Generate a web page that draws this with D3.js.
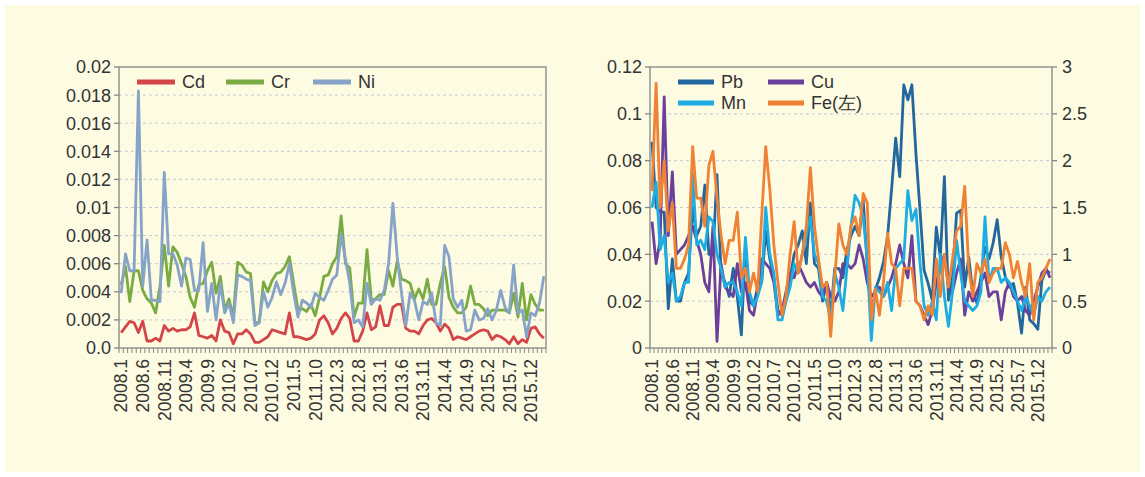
<!DOCTYPE html>
<html>
<head>
<meta charset="utf-8">
<script src="https://cdn.jsdelivr.net/npm/d3@7/dist/d3.min.js"></script>
<style>
  body { margin: 0; background: #fff; }
  svg { display: block; font-family: "Liberation Sans", Arial, sans-serif; }
</style>
</head>
<body>
<div id="chart"></div>
<script>
// ── DATA ──────────────────────────────────────────────────────────────────
// Monthly samples, 2008.1 – 2016.3 (99 months)
const months = [
  "2008.1","2008.2","2008.3","2008.4","2008.5","2008.6","2008.7","2008.8","2008.9","2008.10","2008.11","2008.12",
  "2009.1","2009.2","2009.3","2009.4","2009.5","2009.6","2009.7","2009.8","2009.9","2009.10","2009.11","2009.12",
  "2010.1","2010.2","2010.3","2010.4","2010.5","2010.6","2010.7","2010.8","2010.9","2010.10","2010.11","2010.12",
  "2011.1","2011.2","2011.3","2011.4","2011.5","2011.6","2011.7","2011.8","2011.9","2011.10","2011.11","2011.12",
  "2012.1","2012.2","2012.3","2012.4","2012.5","2012.6","2012.7","2012.8","2012.9","2012.10","2012.11","2012.12",
  "2013.1","2013.2","2013.3","2013.4","2013.5","2013.6","2013.7","2013.8","2013.9","2013.10","2013.11","2013.12",
  "2014.1","2014.2","2014.3","2014.4","2014.5","2014.6","2014.7","2014.8","2014.9","2014.10","2014.11","2014.12",
  "2015.1","2015.2","2015.3","2015.4","2015.5","2015.6","2015.7","2015.8","2015.9","2015.10","2015.11","2015.12",
  "2016.1","2016.2","2016.3"
];

// x-axis labels (every 5th month)
const xTickLabels = [
  "2008.1","2008.6","2008.11","2009.4","2009.9","2010.2","2010.7","2010.12","2011.5","2011.10",
  "2012.3","2012.8","2013.1","2013.6","2013.11","2014.4","2014.9","2015.2","2015.7","2015.12"
];

// left chart: Cd, Cr, Ni
const cd = [
  .0011,.0015,.0019,.0018,.0011,.0019,.0005,.0005,.0007,.0005,
  .0016,.0012,.0014,.0012,.0013,.0013,.0015,.0025,.0009,.0008,
  .0007,.0009,.0005,.0020,.0012,.0011,.0003,.0010,.0010,.0013,
  .0010,.0004,.0004,.0006,.0008,.0013,.0012,.0011,.0010,.0025,
  .0008,.0008,.0007,.0006,.0007,.0010,.0020,.0023,.0018,.0010,
  .0014,.0021,.0025,.0021,.0005,.0005,.0012,.0025,.0013,.0015,
  .0030,.0016,.0016,.0029,.0031,.0031,.0014,.0012,.0012,.0010,
  .0016,.0020,.0021,.0018,.0012,.0017,.0014,.0006,.0008,.0007,
  .0006,.0008,.0010,.0012,.0013,.0012,.0006,.0009,.0008,.0006,
  .0003,.0008,.0003,.0006,.0004,.0014,.0015,.0010,.0007
];
const cr = [
  .0045,.0058,.0033,.0055,.0055,.0041,.0035,.0032,.0025,.0044,
  .0073,.0044,.0072,.0068,.0060,.0051,.0036,.0029,.0045,.0046,
  .0055,.0061,.0039,.0051,.0027,.0035,.0022,.0061,.0059,.0054,
  .0053,.0018,.0018,.0047,.0040,.0048,.0053,.0054,.0058,.0065,
  .0046,.0027,.0028,.0026,.0031,.0023,.0036,.0051,.0052,.0060,
  .0065,.0094,.0060,.0057,.0022,.0032,.0032,.0070,.0034,.0035,
  .0038,.0038,.0055,.0044,.0062,.0049,.0048,.0046,.0035,.0042,
  .0035,.0049,.0031,.0031,.0046,.0058,.0036,.0029,.0025,.0025,
  .0029,.0044,.0031,.0031,.0028,.0023,.0027,.0027,.0027,.0027,
  .0025,.0039,.0022,.0046,.0020,.0038,.0031,.0027,.0027
];
const ni = [
  .0039,.0067,.0055,.0055,.0183,.0044,.0077,.0034,.0034,.0033,
  .0125,.0067,.0067,.0059,.0044,.0064,.0063,.0041,.0041,.0075,
  .0026,.0046,.0020,.0046,.0025,.0032,.0018,.0052,.0051,.0049,
  .0048,.0016,.0018,.0040,.0029,.0036,.0047,.0038,.0046,.0060,
  .0039,.0022,.0034,.0032,.0029,.0039,.0036,.0034,.0041,.0049,
  .0052,.0081,.0063,.0046,.0018,.0020,.0015,.0046,.0031,.0035,
  .0034,.0041,.0060,.0103,.0065,.0039,.0016,.0039,.0034,.0020,
  .0033,.0031,.0039,.0018,.0016,.0073,.0065,.0035,.0029,.0034,
  .0012,.0013,.0027,.0020,.0021,.0028,.0020,.0027,.0041,.0029,
  .0025,.0059,.0025,.0027,.0008,.0025,.0023,.0032,.0051
];

// right chart: Pb, Cu, Mn on the right axis; Fe on the left axis (左)
const pb = [
  2.20,1.50,1.45,1.45,0.42,0.95,0.50,0.50,0.70,0.80,
  1.50,1.20,1.30,1.74,1.00,1.00,1.85,0.80,0.70,0.55,
  0.85,0.55,0.14,1.10,0.50,0.45,0.65,0.70,1.25,0.95,
  0.75,0.40,0.35,0.55,0.75,1.00,1.10,1.25,0.90,1.55,
  0.90,0.85,0.50,0.70,0.35,0.85,0.85,0.75,1.05,1.20,
  1.30,1.20,1.58,0.90,0.33,0.62,0.75,0.92,1.19,1.70,
  2.24,1.83,2.81,2.65,2.81,2.07,1.47,0.83,0.69,0.51,
  1.29,0.97,1.83,0.51,0.76,1.44,1.47,0.65,0.97,0.58,
  0.48,0.76,1.08,0.95,1.12,1.37,0.97,0.76,0.65,0.69,
  0.48,0.16,0.65,0.30,0.26,0.20,0.72,0.83,0.80
];
const cu = [
  1.35,0.90,1.15,2.68,1.20,1.88,1.00,1.05,1.10,1.20,
  1.30,1.15,1.00,0.70,0.60,1.30,0.07,0.90,0.65,0.60,
  0.55,0.90,0.60,0.70,0.40,0.35,0.60,0.95,0.90,0.85,
  0.70,0.35,0.40,0.60,0.80,0.75,0.90,0.80,0.70,0.65,
  0.70,0.60,0.55,0.70,0.55,0.50,0.60,0.90,0.90,0.85,
  0.90,1.10,0.95,0.70,0.55,0.60,0.65,0.55,0.65,0.75,
  0.90,1.10,0.90,0.75,1.20,0.50,0.45,0.35,0.25,0.40,
  0.70,0.85,1.00,0.65,0.60,0.80,0.95,0.35,0.60,0.50,
  0.60,0.70,0.80,0.55,0.60,0.60,0.30,0.60,0.70,0.55,
  0.50,0.55,0.40,0.35,0.50,0.65,0.80,0.85,0.75
];
const mn = [
  1.50,1.77,1.05,1.20,0.70,0.80,0.50,0.55,0.70,0.70,
  1.86,1.10,1.15,1.05,1.40,1.35,1.00,0.85,0.65,0.70,
  0.70,0.60,0.45,1.18,0.60,0.45,0.55,0.70,1.50,1.00,
  0.80,0.30,0.30,0.50,0.65,0.90,0.80,1.00,1.20,1.40,
  1.00,0.90,0.55,0.50,0.30,0.80,0.65,0.40,0.85,1.30,
  1.63,1.55,1.40,0.95,0.08,0.65,0.60,0.55,0.70,0.40,
  0.85,0.90,0.95,1.68,1.36,1.48,0.90,0.45,0.35,0.50,
  0.30,1.00,0.55,0.23,0.60,1.15,0.80,0.50,0.45,0.40,
  0.45,0.60,1.40,0.70,0.85,0.85,0.70,0.75,0.70,0.60,
  0.50,0.40,0.55,0.45,0.35,0.55,0.50,0.60,0.65
];
const fe = [
  .067,.113,.060,.080,.050,.062,.034,.034,.038,.044,
  .086,.064,.064,.052,.078,.084,.064,.048,.036,.046,
  .046,.058,.030,.034,.024,.032,.024,.056,.086,.068,
  .044,.028,.014,.022,.040,.054,.032,.040,.052,.077,
  .052,.038,.026,.028,.005,.030,.053,.044,.040,.052,
  .056,.048,.066,.062,.012,.025,.014,.028,.049,.036,
  .034,.018,.034,.034,.034,.020,.018,.012,.018,.014,
  .038,.022,.040,.026,.038,.050,.052,.069,.034,.022,
  .036,.032,.038,.028,.032,.034,.034,.045,.040,.030,
  .037,.028,.022,.036,.012,.028,.030,.034,.038
];

// y-axis ticks
const leftTicks       = [0, .002, .004, .006, .008, .01, .012, .014, .016, .018, .02];
const leftTickLabels  = ["0.0","0.002","0.004","0.006","0.008","0.01","0.012","0.014","0.016","0.018","0.02"];
const rightTicksL     = [0, .02, .04, .06, .08, .1, .12];
const rightTickLabelsL = ["0","0.02","0.04","0.06","0.08","0.1","0.12"];
const rightTicksR     = [0, .5, 1, 1.5, 2, 2.5, 3];
const rightTickLabelsR = ["0","0.5","1","1.5","2","2.5","3"];

// ── LAYOUT ────────────────────────────────────────────────────────────────
const totalW = 1145, totalH = 477;
const BG = "#fdfbe1", AXIS = "#858585", GRID = "#c6c8d2", TEXT = "#333";

const svg = d3.select("#chart").append("svg")
  .attr("width", totalW).attr("height", totalH);

svg.append("rect").attr("width", totalW).attr("height", totalH).attr("fill", "#fff");
svg.append("rect")
  .attr("x", 5).attr("y", 5)
  .attr("width", totalW - 10).attr("height", totalH - 10)
  .attr("fill", BG);

function panel(box, leftAxis, rightAxis, series, legend) {
  const g = svg.append("g");
  const x = d3.scaleBand().domain(months).range([box.x0, box.x1]);
  const cx = m => x(m) + x.bandwidth() / 2;

  const yL = d3.scaleLinear().domain(leftAxis.domain).range([box.y1, box.y0]);
  const yR = rightAxis
    ? d3.scaleLinear().domain(rightAxis.domain).range([box.y1, box.y0])
    : null;

  // dashed grid
  g.selectAll(".grid")
    .data(leftAxis.ticks.filter((t, i) => i > 0 && i < leftAxis.ticks.length - 1))
    .join("line")
    .attr("x1", box.x0).attr("x2", box.x1)
    .attr("y1", d => yL(d)).attr("y2", d => yL(d))
    .attr("stroke", GRID).attr("stroke-width", 1)
    .attr("stroke-dasharray", "3,3");

  // frame
  g.append("rect")
    .attr("x", box.x0).attr("y", box.y0)
    .attr("width", box.x1 - box.x0).attr("height", box.y1 - box.y0)
    .attr("fill", "none").attr("stroke", AXIS).attr("stroke-width", 1.3);

  // left axis
  g.selectAll(".ltick").data(leftAxis.ticks).join("line")
    .attr("x1", box.x0 - 5).attr("x2", box.x0)
    .attr("y1", d => yL(d)).attr("y2", d => yL(d))
    .attr("stroke", AXIS).attr("stroke-width", 1.3);
  g.selectAll(".llab").data(leftAxis.ticks).join("text")
    .attr("x", box.x0 - 8).attr("y", d => yL(d))
    .attr("dy", "0.36em").attr("text-anchor", "end")
    .attr("font-size", "18px").attr("fill", TEXT)
    .text((d, i) => leftAxis.labels[i]);

  // right axis
  if (yR) {
    g.selectAll(".rtick").data(rightAxis.ticks).join("line")
      .attr("x1", box.x1).attr("x2", box.x1 + 5)
      .attr("y1", d => yR(d)).attr("y2", d => yR(d))
      .attr("stroke", AXIS).attr("stroke-width", 1.3);
    g.selectAll(".rlab").data(rightAxis.ticks).join("text")
      .attr("x", box.x1 + 10).attr("y", d => yR(d))
      .attr("dy", "0.36em").attr("text-anchor", "start")
      .attr("font-size", "18px").attr("fill", TEXT)
      .text((d, i) => rightAxis.labels[i]);
  }

  // x ticks on category boundaries
  const edges = months.map(m => x(m)).concat([box.x1]);
  g.selectAll(".xtick").data(edges).join("line")
    .attr("x1", d => d).attr("x2", d => d)
    .attr("y1", box.y1).attr("y2", box.y1 + 5)
    .attr("stroke", AXIS).attr("stroke-width", 1);

  g.selectAll(".xlab").data(xTickLabels).join("text")
    .attr("transform", d => `translate(${cx(d)},${box.y1 + 11}) rotate(-90)`)
    .attr("dy", "0.36em").attr("text-anchor", "end")
    .attr("font-size", "17.5px").attr("fill", TEXT)
    .text(d => d);

  // lines
  series.forEach(s => {
    const y = s.axis === "right" ? yR : yL;
    g.append("path")
      .datum(s.values)
      .attr("fill", "none")
      .attr("stroke", s.color)
      .attr("stroke-width", 2.8)
      .attr("stroke-linejoin", "round")
      .attr("d", d3.line().x((_, i) => cx(months[i])).y(v => y(v)));
  });

  // legend
  legend.forEach(l => {
    const s = series.find(s => s.name === l.name);
    g.append("line")
      .attr("x1", l.x).attr("x2", l.x + l.len)
      .attr("y1", l.y).attr("y2", l.y)
      .attr("stroke", s.color).attr("stroke-width", 5);
    g.append("text")
      .attr("x", l.x + l.len + 7).attr("y", l.y)
      .attr("dy", "0.36em")
      .attr("font-size", "18px").attr("fill", TEXT)
      .text(s.name);
  });
}

// ── LEFT CHART ────────────────────────────────────────────────────────────
panel(
  { x0: 119, x1: 546, y0: 67, y1: 348 },
  { domain: [0, 0.02], ticks: leftTicks, labels: leftTickLabels },
  null,
  [
    { name: "Cd", color: "#d4454a", values: cd },
    { name: "Cr", color: "#7aab42", values: cr },
    { name: "Ni", color: "#86a3c8", values: ni },
  ],
  [
    { name: "Cd", x: 137, y: 82, len: 38 },
    { name: "Cr", x: 226, y: 82, len: 38 },
    { name: "Ni", x: 313, y: 82, len: 38 },
  ]
);

// ── RIGHT CHART ───────────────────────────────────────────────────────────
panel(
  { x0: 650, x1: 1052, y0: 67, y1: 348 },
  { domain: [0, 0.12], ticks: rightTicksL, labels: rightTickLabelsL },
  { domain: [0, 3], ticks: rightTicksR, labels: rightTickLabelsR },
  [
    { name: "Pb",     color: "#23679f", values: pb, axis: "right" },
    { name: "Cu",     color: "#6a409c", values: cu, axis: "right" },
    { name: "Mn",     color: "#1badE3", values: mn, axis: "right" },
    { name: "Fe(左)", color: "#ef8234", values: fe, axis: "left" },
  ],
  [
    { name: "Pb",     x: 678, y: 82,  len: 36 },
    { name: "Cu",     x: 768, y: 82,  len: 36 },
    { name: "Mn",     x: 678, y: 103, len: 36 },
    { name: "Fe(左)", x: 768, y: 103, len: 36 },
  ]
);
</script>
</body>
</html>
